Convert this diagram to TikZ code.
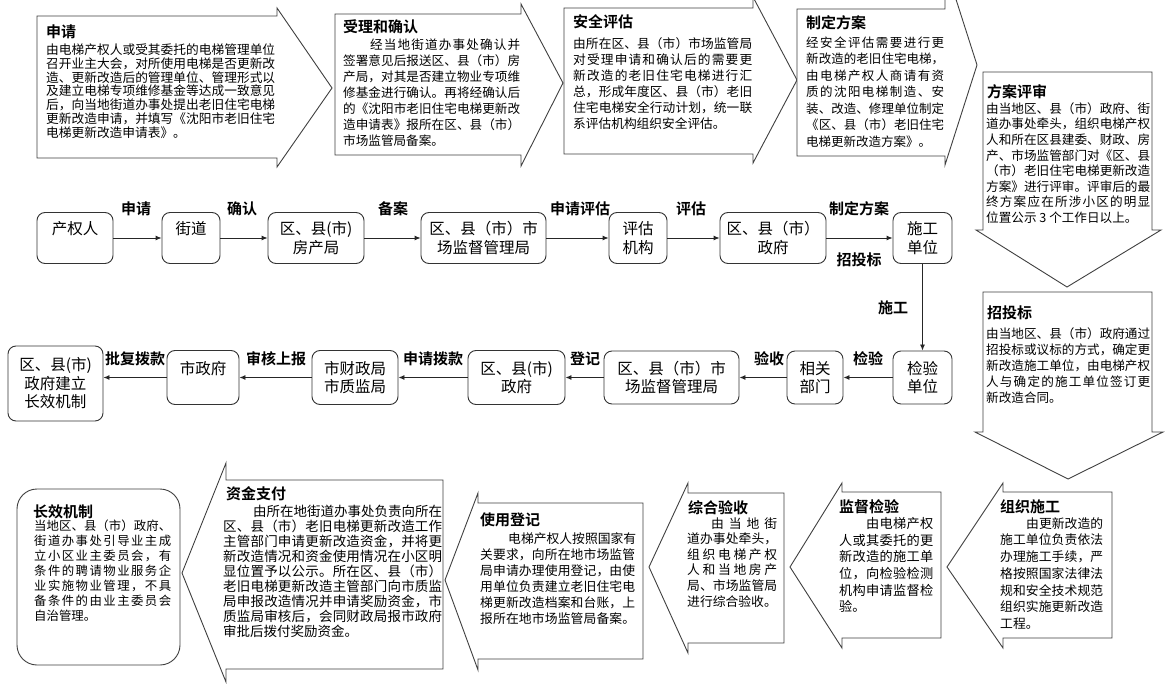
\documentclass[tikz,border=0pt]{standalone}
\usepackage{fontspec}
\setmainfont{Noto Sans CJK SC}[BoldFont={Noto Sans CJK SC Bold}]
\usetikzlibrary{arrows.meta}
\def\jfy#1#2{\hbox to #1pt{\jfyA#2\relax}}
\def\jfyA#1{#1\jfyB}
\def\jfyB#1{\ifx\relax#1\else\hfil#1\expandafter\jfyB\fi}
\begin{document}
\begin{tikzpicture}[x=1pt,y=-1pt,
  callout/.style={draw=black!75, line width=0.9pt, fill=white, line join=miter},
  ctitle/.style={anchor=west, inner sep=0pt, font=\fontsize{15}{17}\selectfont\bfseries},
  cbody/.style={anchor=north west, inner sep=0pt, align=left},
  fbox/.style={draw=black!80, line width=0.9pt, rounded corners=8pt, align=center, inner sep=0pt, font=\fontsize{15.5}{18.5}\selectfont},
  flabel/.style={inner sep=0pt, font=\fontsize{15}{17}\selectfont\bfseries},
  arr/.style={draw=black!85, line width=0.9pt, -{Latex[length=6pt,width=5pt]}}]
\fill[white] (0,0) rectangle (1172,684);
\clip (0,0) rectangle (1172,684);

% ---------- callouts ----------
\draw[callout] (37,16) -- (277,16) -- (277,8) -- (332,88) -- (277,167) -- (277,158) -- (37,158) -- cycle;
\draw[callout] (335,14) -- (521,14) -- (521,4) -- (563,83) -- (521,166) -- (521,155) -- (335,155) -- cycle;
\draw[callout] (564,8) -- (753,8) -- (753,-3) -- (797,80) -- (753,163) -- (753,154) -- (564,154) -- cycle;
\draw[callout] (797,9) -- (945,9) -- (945,-35) -- (977,65) -- (945,165) -- (945,156) -- (797,156) -- cycle;
\draw[callout] (983,72) -- (1152,72) -- (1152,230) -- (1161,230) -- (1067,287) -- (976,230) -- (983,230) -- cycle;
\draw[callout] (983,292) -- (1152,292) -- (1152,432) -- (1163,432) -- (1068,479) -- (975,432) -- (983,432) -- cycle;
\draw[callout] (1003,492) -- (1112,492) -- (1112,638) -- (1003,638) -- (1003,648) -- (947,567) -- (1003,483) -- cycle;
\draw[callout] (842,492) -- (941,492) -- (941,638) -- (842,638) -- (842,648) -- (790,567) -- (842,483) -- cycle;
\draw[callout] (688,493) -- (784,493) -- (784,643) -- (688,643) -- (688,653) -- (649,567) -- (688,483) -- cycle;
\draw[callout] (478,503) -- (643,503) -- (643,659) -- (478,659) -- (478,670) -- (445,580) -- (478,493) -- cycle;
\draw[callout] (226,480) -- (443,480) -- (443,669) -- (226,669) -- (226,682) -- (182,573) -- (226,463) -- cycle;
\draw[callout, rounded corners=20pt] (17,489) rectangle (180,665);

% C1
\node[ctitle] (c1t) at (46,32) {申请};
\node[cbody, font=\fontsize{12.7}{13.9}\selectfont] (c1b) at (46,43.3) {%
\jfy{229}{由电梯产权人或受其委托的电梯管理单位}\\
\jfy{229}{召开业主大会，对所使用电梯是否更新改}\\
\jfy{229}{造、更新改造后的管理单位、管理形式以}\\
\jfy{229}{及建立电梯专项维修基金等达成一致意见}\\
\jfy{229}{后，向当地街道办事处提出老旧住宅电梯}\\
\jfy{229}{更新改造申请，并填写《沈阳市老旧住宅}\\
电梯更新改造申请表》。};
% C2
\node[ctitle] (c2t) at (343,27) {受理和确认};
\node[cbody, font=\fontsize{12.6}{16}\selectfont] (c2b) at (343,38.3) {%
\hskip27pt\jfy{150}{经当地街道办事处确认并}\\
\jfy{177}{签署意见后报送区、县（市）房}\\
\jfy{177}{产局，对其是否建立物业专项维}\\
\jfy{177}{修基金进行确认。再将经确认后}\\
\jfy{177}{的《沈阳市老旧住宅电梯更新改}\\
\jfy{177}{造申请表》报所在区、县（市）}\\
市场监管局备案。};
% C3
\node[ctitle] (c3t) at (573,22) {安全评估};
\node[cbody, font=\fontsize{12.7}{16}\selectfont] (c3b) at (573,37.3) {%
\jfy{179}{由所在区、县（市）市场监管局}\\
\jfy{179}{对受理申请和确认后的需要更}\\
\jfy{179}{新改造的老旧住宅电梯进行汇}\\
\jfy{179}{总，形成年度区、县（市）老旧}\\
\jfy{179}{住宅电梯安全行动计划，统一联}\\
系评估机构组织安全评估。};
% C4
\node[ctitle] (c4t) at (806,23) {制定方案};
\node[cbody, font=\fontsize{12.5}{16.5}\selectfont] (c4b) at (806,36.4) {%
\jfy{138}{经安全评估需要进行更}\\
\jfy{138}{新改造的老旧住宅电梯，}\\
\jfy{138}{由电梯产权人商请有资}\\
\jfy{138}{质的沈阳电梯制造、安}\\
\jfy{138}{装、改造、修理单位制定}\\
\jfy{138}{《区、县（市）老旧住宅}\\
电梯更新改造方案》。};
% C5
\node[ctitle] (c5t) at (987,92) {方案评审};
\node[cbody, font=\fontsize{12.6}{15.6}\selectfont] (c5b) at (986,102.3) {%
\jfy{164}{由当地区、县（市）政府、街}\\
\jfy{164}{道办事处牵头，组织电梯产权}\\
\jfy{164}{人和所在区县建委、财政、房}\\
\jfy{164}{产、市场监管部门对《区、县}\\
\jfy{164}{（市）老旧住宅电梯更新改造}\\
\jfy{164}{方案》进行评审。评审后的最}\\
\jfy{164}{终方案应在所涉小区的明显}\\
位置公示 3 个工作日以上。};
% C6
\node[ctitle] (c6t) at (987,313) {招投标};
\node[cbody, font=\fontsize{12.6}{16}\selectfont] (c6b) at (986,327.3) {%
\jfy{164}{由当地区、县（市）政府通过}\\
\jfy{164}{招投标或议标的方式，确定更}\\
\jfy{164}{新改造施工单位，由电梯产权}\\
\jfy{164}{人与确定的施工单位签订更}\\
新改造合同。};
% C7
\node[ctitle] (c7t) at (1000,507) {组织施工};
\node[cbody, font=\fontsize{12.8}{16.7}\selectfont] (c7b) at (1000,517.2) {%
\hskip26pt\jfy{77}{由更新改造的}\\
\jfy{103}{施工单位负责依法}\\
\jfy{103}{办理施工手续，严}\\
\jfy{103}{格按照国家法律法}\\
\jfy{103}{规和安全技术规范}\\
\jfy{103}{组织实施更新改造}\\
工程。};
% C8
\node[ctitle] (c8t) at (839,507) {监督检验};
\node[cbody, font=\fontsize{13.2}{16.7}\selectfont] (c8b) at (839,517.1) {%
\hskip27pt\jfy{67}{由电梯产权}\\
\jfy{94}{人或其委托的更}\\
\jfy{94}{新改造的施工单}\\
\jfy{94}{位，向检验检测}\\
\jfy{94}{机构申请监督检}\\
验。};
% C9
\node[ctitle] (c9t) at (688,508) {综合验收};
\node[cbody, font=\fontsize{12.8}{15.6}\selectfont] (c9b) at (687,517.2) {%
\hskip24pt\jfy{66}{由当地街}\\
\jfy{90}{道办事处牵头，}\\
\jfy{90}{组织电梯产权}\\
\jfy{90}{人和当地房产}\\
\jfy{90}{局、市场监管局}\\
进行综合验收。};
% C10
\node[ctitle] (c10t) at (480,520) {使用登记};
\node[cbody, font=\fontsize{12.8}{16}\selectfont] (c10b) at (480,532.2) {%
\hskip28pt\jfy{127}{电梯产权人按照国家有}\\
\jfy{155}{关要求，向所在地市场监管}\\
\jfy{155}{局申请办理使用登记，由使}\\
\jfy{155}{用单位负责建立老旧住宅电}\\
\jfy{155}{梯更新改造档案和台账，上}\\
\jfy{155}{报所在地市场监管局备案。}};
% C11
\node[ctitle] (c11t) at (226,494) {资金支付};
\node[cbody, font=\fontsize{13.5}{15}\selectfont] (c11b) at (223,505) {%
\hskip30pt\jfy{189}{由所在地街道办事处负责向所在}\\
\jfy{219}{区、县（市）老旧电梯更新改造工作}\\
\jfy{219}{主管部门申请更新改造资金，并将更}\\
\jfy{219}{新改造情况和资金使用情况在小区明}\\
\jfy{219}{显位置予以公示。所在区、县（市）}\\
\jfy{219}{老旧电梯更新改造主管部门向市质监}\\
\jfy{219}{局申报改造情况并申请奖励资金，市}\\
\jfy{219}{质监局审核后，会同财政局报市政府}\\
审批后拨付奖励资金。};
% C12
\node[ctitle] (c12t) at (33,512) {长效机制};
\node[cbody, font=\fontsize{12.4}{15}\selectfont] (c12b) at (34,519.4) {%
\jfy{137}{当地区、县（市）政府、}\\
\jfy{137}{街道办事处引导业主成}\\
\jfy{137}{立小区业主委员会，有}\\
\jfy{137}{条件的聘请物业服务企}\\
\jfy{137}{业实施物业管理，不具}\\
\jfy{137}{备条件的由业主委员会}\\
自治管理。};

% ---------- flow ----------
\node[fbox, minimum width=76pt, minimum height=51pt] (n1) at (75,238) {产权人\\\phantom{产}};
\node[fbox, minimum width=58pt, minimum height=51pt] (n2) at (191,238) {街道\\\phantom{街}};
\node[fbox, minimum width=96pt, minimum height=51pt] (n3) at (316,238) {区、县(市)\\房产局};
\node[fbox, minimum width=125pt, minimum height=51pt] (n4) at (483.5,238) {区、县（市）市\\场监督管理局};
\node[fbox, minimum width=58pt, minimum height=51pt] (n5) at (638,238) {评估\\机构};
\node[fbox, minimum width=106pt, minimum height=51pt] (n6) at (773,238) {区、县（市）\\政府};
\node[fbox, minimum width=59pt, minimum height=51pt] (n7) at (922.5,238) {施工\\单位};
\node[fbox, minimum width=59pt, minimum height=53pt] (n8) at (922.5,377.5) {检验\\单位};
\node[fbox, minimum width=56pt, minimum height=53pt] (n9) at (815,377.5) {相关\\部门};
\node[fbox, minimum width=135pt, minimum height=53pt] (n10) at (671.5,377.5) {区、县（市）市\\场监督管理局};
\node[fbox, minimum width=97pt, minimum height=54pt] (n11) at (516.5,377.5) {区、县(市)\\政府};
\node[fbox, minimum width=86pt, minimum height=54pt] (n12) at (355,377.5) {市财政局\\市质监局};
\node[fbox, minimum width=72pt, minimum height=54pt] (n13) at (203,377.5) {市政府\\\phantom{市}};
\node[fbox, minimum width=95pt, minimum height=75pt] (n14) at (55.5,383.5) {区、县(市)\\政府建立\\长效机制};

\draw[arr] (n1) -- (n2);
\draw[arr] (n2) -- (n3);
\draw[arr] (n3) -- (n4);
\draw[arr] (n4) -- (n5);
\draw[arr] (n5) -- (n6);
\draw[arr] (n6) -- (n7);
\draw[arr] (n7) -- (n8);
\draw[arr] (n8) -- (n9);
\draw[arr] (n9) -- (n10);
\draw[arr] (n10) -- (n11);
\draw[arr] (n11) -- (n12);
\draw[arr] (n12) -- (n13);
\draw[arr] (n13.west) -- (n13.west -| n14.east);

\node[flabel] (l1) at (136,209) {申请};
\node[flabel] (l2) at (242,209) {确认};
\node[flabel] (l3) at (393,209) {备案};
\node[flabel] (l4) at (580,209) {申请评估};
\node[flabel] (l5) at (691,209) {评估};
\node[flabel] (l6) at (859,209) {制定方案};
\node[flabel] (l7) at (859,260) {招投标};
\node[flabel] (l8) at (893,308) {施工};
\node[flabel] (l9) at (868,359) {检验};
\node[flabel] (l10) at (769,359) {验收};
\node[flabel] (l11) at (585,359) {登记};
\node[flabel] (l12) at (433,359) {申请拨款};
\node[flabel] (l13) at (276,359) {审核上报};
\node[flabel] (l14) at (135,359) {批复拨款};
\end{tikzpicture}
\end{document}
